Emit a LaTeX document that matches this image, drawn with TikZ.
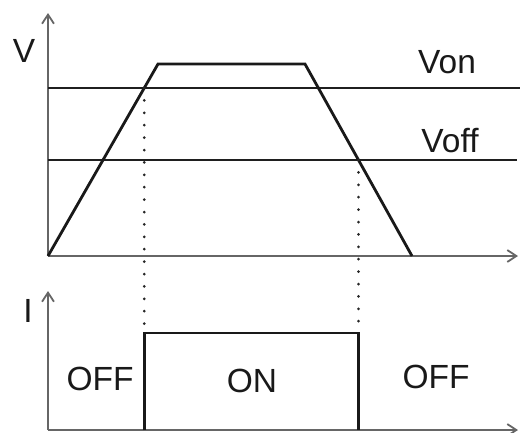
\documentclass[tikz,border=0pt]{standalone}
\usepackage{fontspec}
\setmainfont{Liberation Sans}
\usetikzlibrary{arrows.meta, calc}
\tikzset{
  axis/.style={-{Straight Barb[length=3.2mm, width=4.2mm]}, line width=1.8pt, draw=black!60},
  level/.style={line width=2.6pt, draw=black!88},
  signal/.style={line width=2.8pt, draw=black!90, line join=miter},
  guide/.style={line width=3pt, dash pattern=on 0pt off 12.4pt, line cap=round, draw=black!85},
  lbl/.style={font=\fontsize{33.5}{38}\selectfont, inner sep=0pt, anchor=base, text=black!90},
}

\begin{document}
\begin{tikzpicture}[x=1pt, y=-1pt]
  \useasboundingbox (0,0) rectangle (520,432);

  % voltage axes
  \coordinate (vorig) at (48,256);
  \coordinate (vtop)  at (48,13);
  \coordinate (vend)  at (518,256);
  \draw[axis] (vorig) -- (vtop);
  \draw[axis] (vorig) -- (vend);

  % threshold levels
  \coordinate (onl)  at (48,88);
  \coordinate (onr)  at (520,88);
  \coordinate (offl) at (48,160);
  \coordinate (offr) at (517,160);
  \draw[level] (onl) -- (onr);
  \draw[level] (offl) -- (offr);

  % voltage ramp
  \coordinate (rise) at (158,64);
  \coordinate (fall) at (305,64);
  \coordinate (down) at (412,256);
  \draw[signal] (vorig) -- (rise) -- (fall) -- (down);

  % crossing points
  \coordinate (xon)  at (144.25,88);
  \coordinate (xoff) at (358.5,160);

  % current axes
  \coordinate (iorig) at (48,430);
  \coordinate (itop)  at (48,291);
  \coordinate (iend)  at (518,430);
  \draw[axis] (iorig) -- (itop);
  \draw[axis] (iorig) -- (iend);

  % on pulse
  \coordinate (pa) at (144.25,430);
  \coordinate (pb) at (144.25,333);
  \coordinate (pc) at (358.5,333);
  \coordinate (pd) at (358.5,430);
  \draw[signal] (pa) -- (pb) -- (pc) -- (pd);

  % guide lines
  \draw[guide] (xon) -- (pb);
  \draw[guide] (xoff) -- (pc);

  % labels
  \node[lbl] (vlbl)    at (24,62)   {V};
  \node[lbl] (ilbl)    at (28,322)  {I};
  \node[lbl] (vonlbl)  at (447,73)  {Von};
  \node[lbl] (vofflbl) at (450,152) {Voff};
  \node[lbl] (offa)    at (100,390) {OFF};
  \node[lbl] (onlbl)   at (252,392) {ON};
  \node[lbl] (offb)    at (436,388) {OFF};
\end{tikzpicture}
\end{document}
